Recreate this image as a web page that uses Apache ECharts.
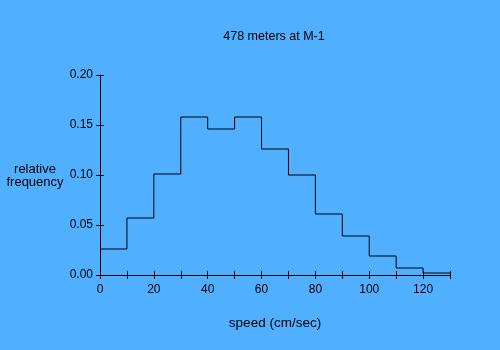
<!DOCTYPE html>
<html>
<head>
<meta charset="utf-8">
<script src="https://cdn.jsdelivr.net/npm/echarts@6/dist/echarts.min.js"></script>
<style>
  html, body { margin: 0; padding: 0; background: #50B0FF; }
  #chart { width: 500px; height: 350px; }
</style>
</head>
<body>
<div id="chart"></div>
<script>
// Speed histogram: bin left edges (cm/sec) and relative frequency per bin
const binStarts = [0, 10, 20, 30, 40, 50, 60, 70, 80, 90, 100, 110, 120];
const binWidth = 10;
const frequencies = [0.026, 0.057, 0.101, 0.158, 0.146, 0.158, 0.126, 0.100, 0.061, 0.039, 0.019, 0.007, 0.002];
const yTickLabels = ['0.00', '0.05', '0.10', '0.15', '0.20'];
const xTickLabels = ['0', '20', '40', '60', '80', '100', '120'];

const titleText = '478 meters at M-1';
const xName = 'speed (cm/sec)';
const yName = 'relative\nfrequency';

// Step outline: each bin's left edge, plus the closing right edge of the last bin
const stepData = binStarts.map((x, i) => [x, frequencies[i]]);
stepData.push([binStarts[binStarts.length - 1] + binWidth, frequencies[frequencies.length - 1]]);

const font = 'Liberation Sans, Arial, sans-serif';
const black = '#000';

const baseX = {
  type: 'value', min: 0, max: 130, interval: 10, position: 'bottom',
  splitLine: { show: false }
};
const baseY = {
  type: 'value', min: 0, max: 0.2, interval: 0.05, position: 'left',
  splitLine: { show: false }
};

const chart = echarts.init(document.getElementById('chart'), null, { renderer: 'canvas' });
chart.setOption({
  backgroundColor: '#50B0FF',
  animation: false,
  graphic: [
    {
      type: 'text', x: 274, y: 37,
      style: { text: titleText, fontFamily: font, fontSize: 12.5, fill: black, align: 'center', verticalAlign: 'middle' }
    },
    {
      type: 'text', x: 35, y: 176,
      style: { text: yName, fontFamily: font, fontSize: 13, fill: black, align: 'center', verticalAlign: 'middle', lineHeight: 13 }
    }
  ],
  grid: { left: 100, right: 50, top: 75, bottom: 75 },
  xAxis: [
    Object.assign({}, baseX, {
      name: xName, nameLocation: 'middle', nameGap: 41,
      nameTextStyle: { fontFamily: font, fontSize: 13.5, color: black },
      axisLine: { show: true, lineStyle: { color: black, width: 1 } },
      axisTick: { show: true, inside: false, length: 4, lineStyle: { color: black } },
      axisLabel: {
        fontFamily: font, fontSize: 12, color: black, margin: 9,
        formatter: v => { const s = String(v); return xTickLabels.includes(s) ? s : ''; }
      }
    }),
    Object.assign({}, baseX, {
      axisLine: { show: false },
      axisTick: { show: true, inside: true, length: 4, lineStyle: { color: black } },
      axisLabel: { show: false }
    })
  ],
  yAxis: [
    Object.assign({}, baseY, {
      axisLine: { show: true, lineStyle: { color: black, width: 1 } },
      axisTick: { show: true, inside: false, length: 4, lineStyle: { color: black } },
      axisLabel: {
        fontFamily: font, fontSize: 12, color: black, margin: 7,
        formatter: v => yTickLabels[Math.round(v / 0.05)]
      }
    }),
    Object.assign({}, baseY, {
      axisLine: { show: false },
      axisTick: { show: true, inside: true, length: 4, lineStyle: { color: black } },
      axisLabel: { show: false }
    })
  ],
  series: [{
    type: 'line', step: 'end', xAxisIndex: 0, yAxisIndex: 0,
    data: stepData, showSymbol: false, symbol: 'none',
    lineStyle: { color: black, width: 1 }
  }]
});
</script>
</body>
</html>
